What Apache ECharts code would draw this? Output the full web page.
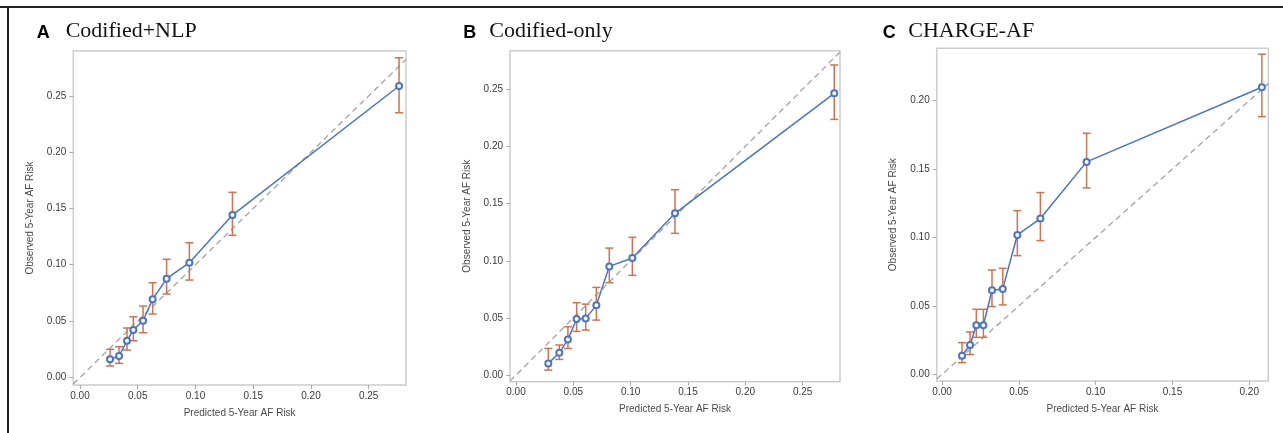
<!DOCTYPE html>
<html>
<head>
<meta charset="utf-8">
<script src="https://cdn.jsdelivr.net/npm/echarts@6/dist/echarts.min.js"></script>
<style>
html,body{margin:0;padding:0;background:#fff;}
#c{width:1283px;height:433px;}
</style>
</head>
<body>
<div id="c"></div>
<script>
// ---- Data ----
const panelLetters = ['A', 'B', 'C'];
const panelTitles = ['Codified+NLP', 'Codified-only', 'CHARGE-AF'];

// Panel A: Codified+NLP
const predA = [0.026, 0.0338, 0.0407, 0.0462, 0.0546, 0.0629, 0.0750, 0.0947, 0.1320, 0.2763];
const obsA  = [0.016, 0.0189, 0.0325, 0.0420, 0.0503, 0.0693, 0.0876, 0.1018, 0.1441, 0.2587];
const loA   = [0.010, 0.0124, 0.0242, 0.0325, 0.0396, 0.0562, 0.0740, 0.0864, 0.1261, 0.2350];
const hiA   = [0.0249, 0.0272, 0.0438, 0.0538, 0.0633, 0.0840, 0.1048, 0.1195, 0.1643, 0.2838];

// Panel B: Codified-only
const predB = [0.0282, 0.0378, 0.0453, 0.0529, 0.0608, 0.0701, 0.0814, 0.1015, 0.1387, 0.2776];
const obsB  = [0.0102, 0.0195, 0.0312, 0.0490, 0.0496, 0.0610, 0.0951, 0.1024, 0.1415, 0.2465];
const loB   = [0.0044, 0.0137, 0.0233, 0.0382, 0.0394, 0.0481, 0.0808, 0.0872, 0.1240, 0.2237];
const hiB   = [0.0233, 0.0263, 0.0423, 0.0633, 0.0621, 0.0767, 0.1111, 0.1205, 0.1622, 0.2713];

// Panel C: CHARGE-AF
const predC = [0.0130, 0.0182, 0.0223, 0.0269, 0.0325, 0.0395, 0.0490, 0.0640, 0.0941, 0.2082];
const obsC  = [0.0136, 0.0214, 0.0358, 0.0358, 0.0614, 0.0624, 0.1018, 0.1138, 0.1552, 0.2097];
const loC   = [0.0085, 0.0144, 0.0270, 0.0270, 0.0495, 0.0507, 0.0867, 0.0977, 0.1362, 0.1883];
const hiC   = [0.0231, 0.0309, 0.0475, 0.0475, 0.0762, 0.0775, 0.1196, 0.1328, 0.1761, 0.2339];

// Tick labels
const ticksA_x = [0, 0.05, 0.10, 0.15, 0.20, 0.25];
const ticksA_y = [0, 0.05, 0.10, 0.15, 0.20, 0.25];
const ticksB_x = [0, 0.05, 0.10, 0.15, 0.20, 0.25];
const ticksB_y = [0, 0.05, 0.10, 0.15, 0.20, 0.25];
const ticksC_x = [0, 0.05, 0.10, 0.15, 0.20];
const ticksC_y = [0, 0.05, 0.10, 0.15, 0.20];

// Axis extents
const xRangeA = [-0.0058, 0.2823], yRangeA = [-0.0068, 0.2898];
const xRangeB = [-0.0052, 0.2826], yRangeB = [-0.0058, 0.2838];
const xRangeC = [-0.0035, 0.2124], yRangeC = [-0.0049, 0.2382];

const xName = 'Predicted 5-Year AF Risk';
const yName = 'Observed 5-Year AF Risk';

// ---- Layout / style ----
const grids = [
  {left: 73.3, top: 51, width: 332.7, height: 334},
  {left: 510, top: 50.7, width: 330, height: 331},
  {left: 936.7, top: 48.3, width: 331.6, height: 332.7}
];
const titlePos = [
  {lx: 36.7, tx: 65.7},
  {lx: 463.3, tx: 489.3},
  {lx: 882.7, tx: 908.3}
];
const FONT = 'Arial, "Liberation Sans", sans-serif';
const BLUE = '#4a74c6';
const ORANGE = '#cc7350';

const panels = [
  {pred: predA, obs: obsA, lo: loA, hi: hiA, tx: ticksA_x, ty: ticksA_y, xr: xRangeA, yr: yRangeA},
  {pred: predB, obs: obsB, lo: loB, hi: hiB, tx: ticksB_x, ty: ticksB_y, xr: xRangeB, yr: yRangeB},
  {pred: predC, obs: obsC, lo: loC, hi: hiC, tx: ticksC_x, ty: ticksC_y, xr: xRangeC, yr: yRangeC}
];

const option = {
  backgroundColor: '#fff',
  animation: false,
  grid: grids.map(g => Object.assign({show: true, borderColor: '#cccccc', borderWidth: 1.5, backgroundColor: 'transparent'}, g)),
  xAxis: [], yAxis: [], series: [],
  graphic: []
};

panels.forEach((p, i) => {
  const labelStyle = {color: '#3a3a3a', fontSize: 10, fontFamily: FONT, formatter: v => v.toFixed(2)};
  option.xAxis.push({
    type: 'value', gridIndex: i, min: p.xr[0], max: p.xr[1],
    axisLine: {show: false, onZero: false},
    axisTick: {show: true, length: 4, lineStyle: {color: '#aaa'}, customValues: p.tx},
    axisLabel: Object.assign({margin: 6, customValues: p.tx}, labelStyle),
    splitLine: {show: false},
    name: xName, nameLocation: 'middle', nameGap: 23,
    nameTextStyle: {color: '#4a4a4a', fontSize: 10, fontFamily: FONT}
  });
  option.yAxis.push({
    type: 'value', gridIndex: i, min: p.yr[0], max: p.yr[1],
    axisLine: {show: false, onZero: false},
    axisTick: {show: true, length: 4, lineStyle: {color: '#aaa'}, customValues: p.ty},
    axisLabel: Object.assign({margin: 7, customValues: p.ty}, labelStyle),
    splitLine: {show: false},
    name: yName, nameLocation: 'middle', nameGap: 38,
    nameTextStyle: {color: '#4a4a4a', fontSize: 10, fontFamily: FONT}
  });
  // diagonal reference
  option.series.push({
    type: 'line', xAxisIndex: i, yAxisIndex: i, symbol: 'none', silent: true,
    data: [[p.xr[0], p.xr[0]], [p.xr[1], p.xr[1]]],
    lineStyle: {color: '#a8a8a8', width: 1.4, type: [6, 4]}, z: 1
  });
  // error bars
  option.series.push({
    type: 'custom', xAxisIndex: i, yAxisIndex: i, z: 2,
    data: p.pred.map((x, k) => [x, p.lo[k], p.hi[k]]),
    encode: {x: 0, y: [1, 2]},
    renderItem: function (params, api) {
      const x = api.value(0);
      const a = api.coord([x, api.value(2)]);
      const b = api.coord([x, api.value(1)]);
      const w = 4;
      const st = {stroke: ORANGE, lineWidth: 1.5};
      return {type: 'group', children: [
        {type: 'line', shape: {x1: a[0], y1: a[1], x2: b[0], y2: b[1]}, style: st},
        {type: 'line', shape: {x1: a[0] - w, y1: a[1], x2: a[0] + w, y2: a[1]}, style: st},
        {type: 'line', shape: {x1: b[0] - w, y1: b[1], x2: b[0] + w, y2: b[1]}, style: st}
      ]};
    }
  });
  // calibration line
  option.series.push({
    type: 'line', xAxisIndex: i, yAxisIndex: i, z: 3,
    data: p.pred.map((x, k) => [x, p.obs[k]]),
    symbol: 'emptyCircle', symbolSize: 6,
    lineStyle: {color: BLUE, width: 1.5},
    itemStyle: {color: BLUE, borderColor: BLUE, borderWidth: 1.2}
  });
  // titles
  option.graphic.push({
    type: 'text', left: titlePos[i].lx, top: 24,
    style: {text: panelLetters[i], fontFamily: FONT, fontWeight: 'bold', fontSize: 18, fill: '#000'}
  });
  option.graphic.push({
    type: 'text', left: titlePos[i].tx, top: 20,
    style: {text: panelTitles[i], fontFamily: '"Liberation Serif", "Times New Roman", serif', fontSize: 22, fill: '#111'}
  });
});

// outer frame lines
option.graphic.push({type: 'line', shape: {x1: 0, y1: 7, x2: 1283, y2: 7}, style: {stroke: '#222', lineWidth: 2}});
option.graphic.push({type: 'line', shape: {x1: 8, y1: 7, x2: 8, y2: 433}, style: {stroke: '#222', lineWidth: 2}});

const chart = echarts.init(document.getElementById('c'), null, {renderer: 'canvas'});
chart.setOption(option);
</script>
</body>
</html>
